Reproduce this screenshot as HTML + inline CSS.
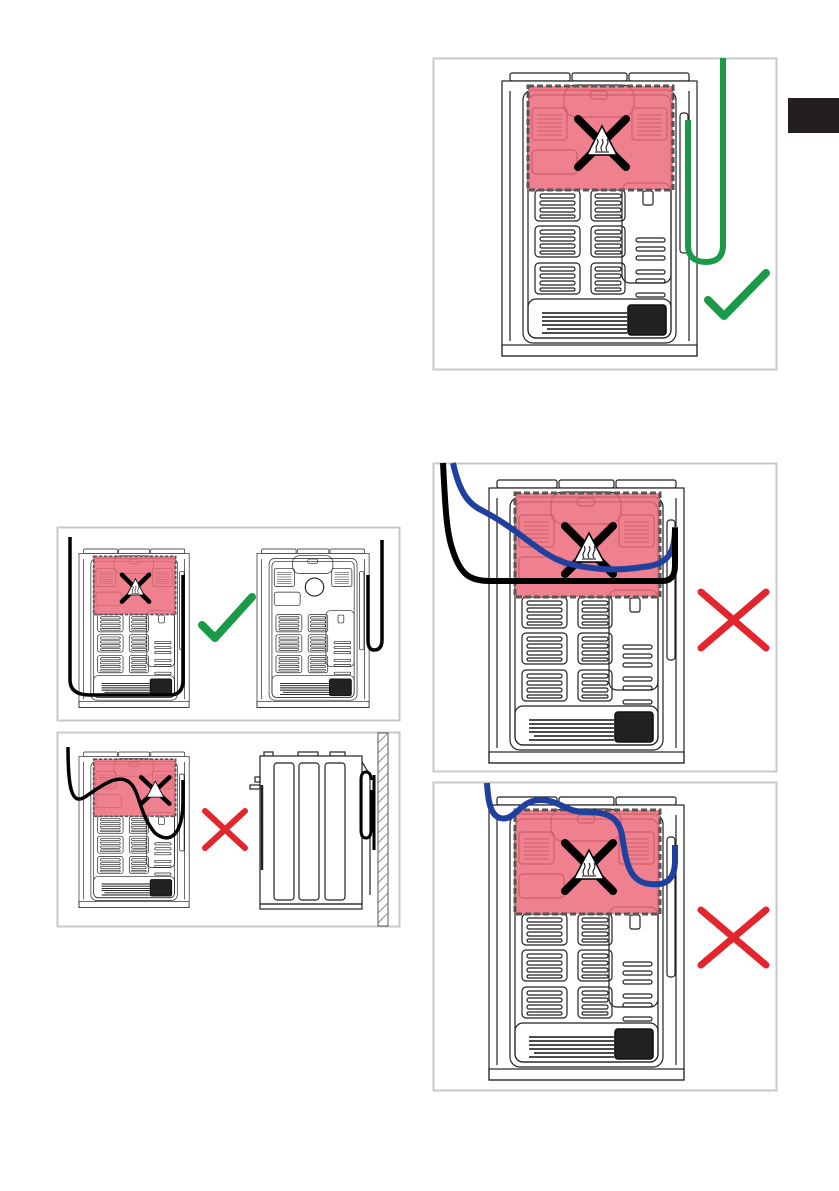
<!DOCTYPE html>
<html><head><meta charset="utf-8"><style>
html,body{margin:0;padding:0;background:#fff;}
svg{display:block;font-family:"Liberation Sans",sans-serif;}
</style></head><body>
<svg width="839" height="1191" viewBox="0 0 839 1191" xmlns="http://www.w3.org/2000/svg">
<defs>
<g id="grille">
  <rect x="0" y="0" width="45" height="31" rx="4" fill="none" stroke="#222" stroke-width="1.2"/>
  <g stroke="#222" stroke-width="1.2" fill="none">
    <rect x="5" y="4" width="35" height="4" rx="2"/>
    <rect x="5" y="11" width="35" height="4" rx="2"/>
    <rect x="5" y="18" width="35" height="4" rx="2"/>
    <rect x="5" y="25" width="35" height="3" rx="1.5"/>
  </g>
</g>
<g id="grille2">
  <rect x="0" y="0" width="34" height="31" rx="4" fill="none" stroke="#222" stroke-width="1.2"/>
  <g stroke="#222" stroke-width="1.2" fill="none">
    <rect x="4" y="4" width="26" height="4" rx="2"/>
    <rect x="4" y="11" width="26" height="4" rx="2"/>
    <rect x="4" y="18" width="26" height="4" rx="2"/>
    <rect x="4" y="25" width="26" height="3" rx="1.5"/>
  </g>
</g>
<g id="base">
  <!-- top bumps -->
  <g fill="none" stroke="#222" stroke-width="1.2">
    <rect x="8" y="0" width="60" height="8" rx="2"/>
    <rect x="70" y="0" width="55" height="8" rx="2"/>
    <rect x="127" y="0" width="60" height="8" rx="2"/>
    <rect x="0" y="8" width="195" height="275" fill="#fff"/>
    <rect x="0" y="272" width="195" height="11"/>
    <path d="M8 18 V268 M187 18 V268"/>
    <rect x="21" y="17" width="153" height="253" rx="10"/>
    <rect x="26" y="22" width="143" height="243" rx="8"/>
    <rect x="120" y="110" width="49" height="100" rx="8"/>
    <rect x="26" y="226" width="143" height="39" rx="8"/>
    <rect x="141" y="118" width="10" height="14" rx="2"/>
    <rect x="178" y="40" width="8" height="140" rx="3"/>
  </g>
  <use href="#grille" x="33" y="117"/>
  <use href="#grille" x="33" y="153"/>
  <use href="#grille" x="33" y="190"/>
  <use href="#grille2" x="89" y="117"/>
  <use href="#grille2" x="89" y="153"/>
  <use href="#grille2" x="89" y="190"/>
  <g fill="none" stroke="#222" stroke-width="1.2">
    <rect x="134" y="165" width="29" height="4" rx="2"/>
    <rect x="134" y="174" width="29" height="4" rx="2"/>
    <rect x="134" y="183" width="29" height="4" rx="2"/>
    <rect x="134" y="197" width="29" height="4" rx="2"/>
    <rect x="134" y="206" width="29" height="4" rx="2"/>
    <rect x="134" y="220" width="29" height="4" rx="2"/>
  </g>
  <g stroke="#111" stroke-width="1.6">
    <path d="M40 240 H125 M40 244 H125 M40 248 H125 M40 252 H125 M45 256 H125 M40 260 H125"/>
    <rect x="126" y="232" width="38" height="30" rx="3" fill="#222"/>
  </g>
  <!-- upper grilles -->
  <g fill="none" stroke="#222" stroke-width="1.2">
    <rect x="30" y="35" width="35" height="32" rx="3"/>
    <rect x="130" y="35" width="35" height="32" rx="3"/>
    <rect x="30" y="77" width="45" height="24" rx="4"/>
    <rect x="62" y="12" width="70" height="32" rx="12"/>
    <rect x="88" y="18" width="18" height="8" rx="4"/>
  </g>
  <g stroke="#222" stroke-width="1"><path d="M35 42H60M35 46H60M35 50H60M35 54H60M35 58H60M35 62H60 M135 42H160M135 46H160M135 50H160M135 54H160M135 58H160M135 62H160"/></g>
</g>
<g id="hot">
  <rect x="26" y="13" width="145" height="104" fill="#ec6a7a" fill-opacity="0.85" stroke="#555" stroke-width="3" stroke-dasharray="6 3"/>
  <path d="M76 46 L124 94 M124 46 L76 94" stroke="#000" stroke-width="8" stroke-linecap="round"/>
  <path d="M100 53 L115 82 L85 82 Z" fill="#fff" stroke="#000" stroke-width="1.5"/>
  <path d="M95 66 q2 3 0 6 q-2 3 0 6 M100 66 q2 3 0 6 q-2 3 0 6 M105 66 q2 3 0 6 q-2 3 0 6 M93 79 H107" stroke="#000" stroke-width="1" fill="none"/>
</g>
<g id="ovenhot"><use href="#base"/><use href="#hot"/></g>
</defs>

<!-- black tab -->
<rect x="788" y="98" width="51" height="35" fill="#231f20"/>

<!-- Panel 1 -->
<rect x="433.5" y="58.5" width="343" height="311" fill="#fff" stroke="#c8c8c8" stroke-width="2"/>
<use href="#ovenhot" x="502" y="73"/>
<path d="M723 58 V245 Q723 262 706 262 Q688 262 688 245 V120" fill="none" stroke="#1a9a48" stroke-width="6"/>
<path d="M708 300 L724 316 L766 273" fill="none" stroke="#1a9a48" stroke-width="8" stroke-linecap="round" stroke-linejoin="round"/>

<!-- Panel 2 -->
<rect x="433.5" y="463.5" width="343" height="308" fill="#fff" stroke="#c8c8c8" stroke-width="2"/>
<use href="#ovenhot" x="489" y="480"/>
<path d="M453 463 C460 495 470 505 483 511 C520 530 540 555 566 563 C600 572 625 570 650 566 C670 562 675 550 675 527" fill="none" stroke="#2040a0" stroke-width="6"/>
<path d="M443 463 C445 500 446 530 452 548 C460 575 470 581 490 581 L662 581 C672 581 675 575 675 565 V528" fill="none" stroke="#000" stroke-width="6"/>
<path d="M701 592 L766 648 M766 592 L701 648" stroke="#e3262e" stroke-width="7" stroke-linecap="round"/>

<!-- Panel 3 -->
<rect x="433.5" y="782.5" width="343" height="308" fill="#fff" stroke="#c8c8c8" stroke-width="2"/>
<use href="#ovenhot" x="489" y="797"/>
<path d="M487 783 C488 800 490 815 500 818 C515 822 520 800 540 800 C560 800 565 812 585 812 C605 812 618 815 622 835 C626 860 628 882 650 884 C668 886 675 878 675 860 V845" fill="none" stroke="#2040a0" stroke-width="6"/>
<path d="M701 910 L766 965 M766 910 L701 965" stroke="#e3262e" stroke-width="7" stroke-linecap="round"/>

<!-- Panel 4 -->
<rect x="57.5" y="527.5" width="342" height="193" fill="#fff" stroke="#c8c8c8" stroke-width="2"/>
<g transform="translate(79 549) scale(0.565 0.56)"><use href="#ovenhot"/></g>
<g transform="translate(257 549) scale(0.575 0.56)"><use href="#base"/><circle cx="100" cy="68" r="16" fill="#fff" stroke="#222" stroke-width="2"/></g>
<path d="M70 537 V680 Q70 695 90 695 L170 695 Q183 695 183 680 V575" fill="none" stroke="#000" stroke-width="3.5"/>
<path d="M382 540 V640 Q382 650 374 650 Q368 650 368 640 V575" fill="none" stroke="#000" stroke-width="3.5"/>
<path d="M202 625 L215 638 L252 597" fill="none" stroke="#1a9a48" stroke-width="8" stroke-linecap="round" stroke-linejoin="round"/>

<!-- Panel 5 -->
<rect x="57.5" y="732.5" width="342" height="194" fill="#fff" stroke="#c8c8c8" stroke-width="2"/>
<g transform="translate(79 752) scale(0.565 0.55)"><use href="#base"/>
<rect x="26" y="13" width="145" height="104" fill="#ec6a7a" fill-opacity="0.85" stroke="#555" stroke-width="3" stroke-dasharray="6 3"/>
<path d="M110 46 L160 94 M160 46 L110 94" stroke="#000" stroke-width="8" stroke-linecap="round"/>
<path d="M135 53 L150 82 L120 82 Z" fill="#fff" stroke="#000" stroke-width="1.5"/></g>
<path d="M68 747 C68 790 72 805 85 797 C100 787 120 770 132 785 C140 795 140 815 155 833 C170 845 183 835 183 800 V780" fill="none" stroke="#000" stroke-width="3.5"/>
<path d="M205 811 L245 848 M245 811 L205 848" stroke="#e3262e" stroke-width="6" stroke-linecap="round"/>
<!-- side oven -->
<g fill="none" stroke="#222" stroke-width="1.2">
  <rect x="264" y="752" width="9" height="4"/><rect x="298" y="752" width="20" height="4"/><rect x="330" y="752" width="15" height="4"/>
  <rect x="260" y="756" width="102" height="148" fill="#fff"/>
  <rect x="260" y="904" width="102" height="5"/>
  <rect x="274" y="763" width="20" height="137" rx="3"/>
  <rect x="299" y="763" width="20" height="137" rx="3"/>
  <rect x="325" y="763" width="20" height="137" rx="3"/>
  <path d="M262 785 V870" stroke-width="2.5"/>
  <rect x="255" y="777" width="5" height="5"/><rect x="250" y="785" width="10" height="4"/>
  <path d="M362 762 L370 775 V895"/>
</g>
<path d="M371 790 V830 Q371 838 366 838 Q361 838 361 830 V780 Q361 772 366 772 Q371 772 371 780" fill="none" stroke="#000" stroke-width="3"/>
<path d="M374 775 V850" stroke="#000" stroke-width="3"/>
<g>
  <rect x="378" y="733" width="10" height="193" fill="#fff" stroke="#555" stroke-width="1"/>
  <g stroke="#777" stroke-width="0.8"><path d="M378 743 L388 733 M378 753 L388 743 M378 763 L388 753 M378 773 L388 763 M378 783 L388 773 M378 793 L388 783 M378 803 L388 793 M378 813 L388 803 M378 823 L388 813 M378 833 L388 823 M378 843 L388 833 M378 853 L388 843 M378 863 L388 853 M378 873 L388 863 M378 883 L388 873 M378 893 L388 883 M378 903 L388 893 M378 913 L388 903 M378 923 L388 913"/></g>
</g>
</svg>
</body></html>
